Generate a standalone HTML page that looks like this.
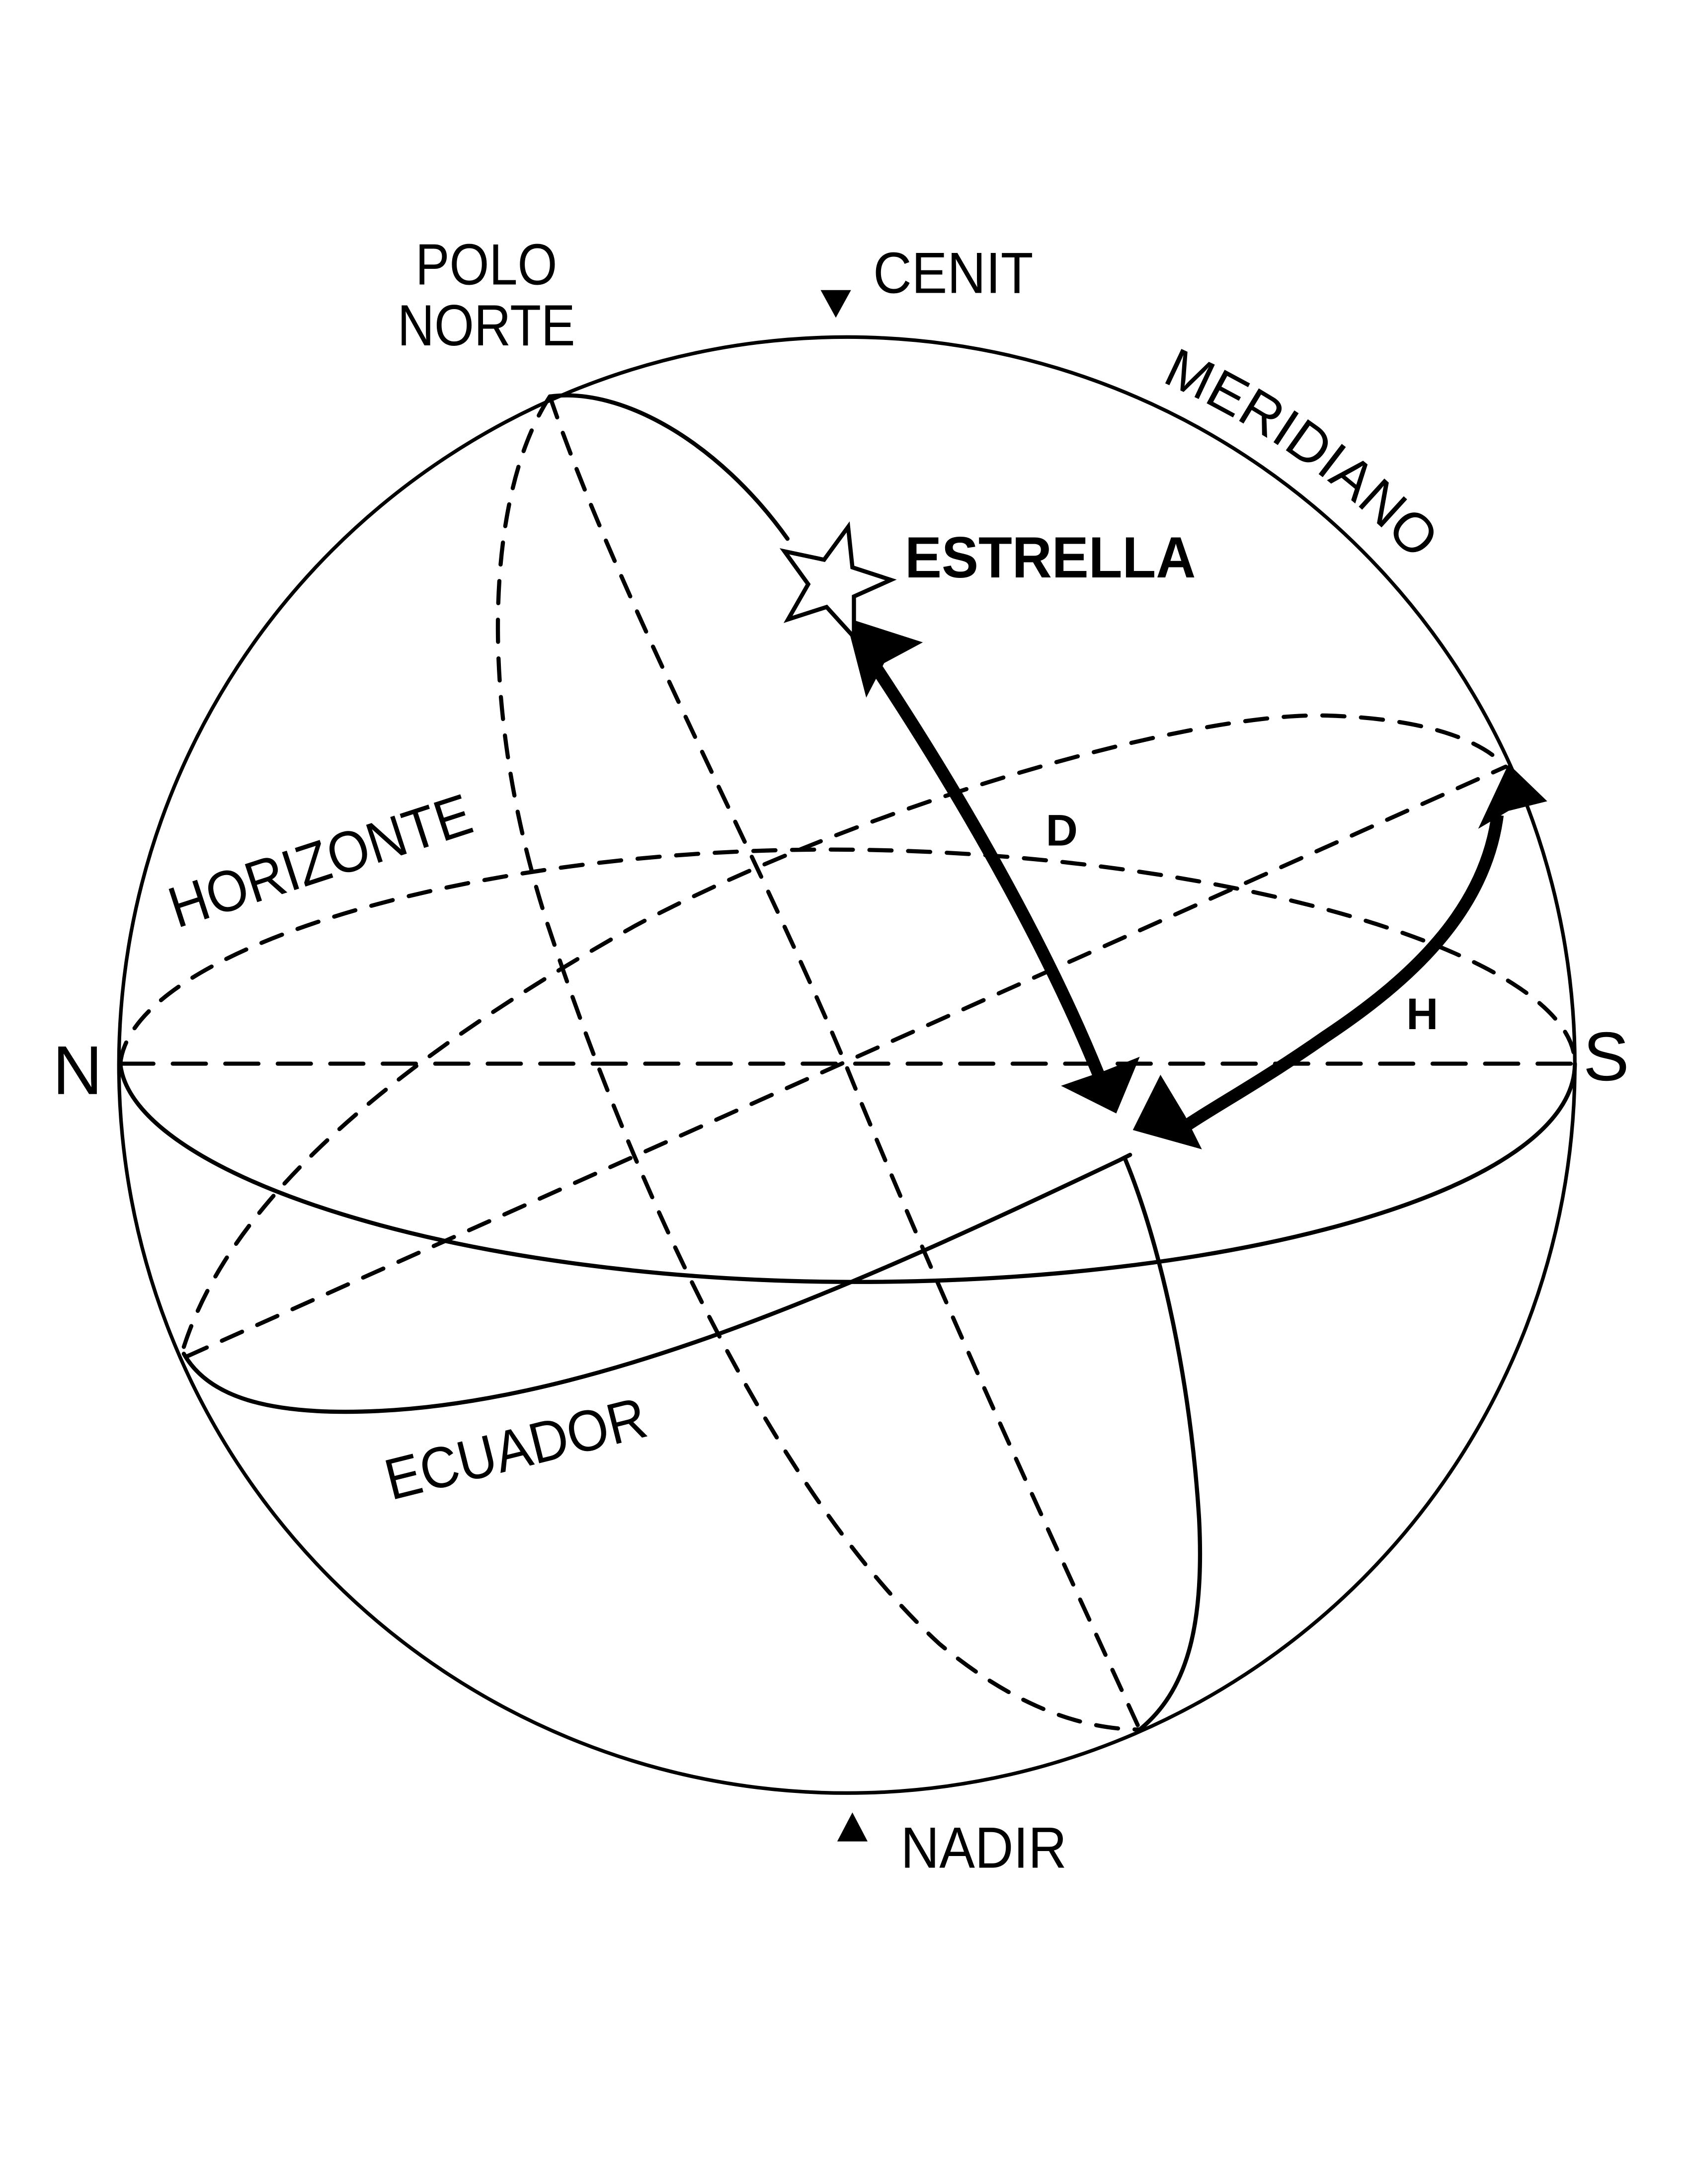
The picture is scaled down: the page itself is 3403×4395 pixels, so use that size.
<!DOCTYPE html>
<html><head><meta charset="utf-8"><style>
html,body{margin:0;padding:0;background:#fff}
svg{display:block}
text{font-family:"Liberation Sans",sans-serif;fill:#000}
</style></head><body>
<svg width="3403" height="4395" viewBox="0 0 1224 1581" xmlns="http://www.w3.org/2000/svg">
<defs>
<path id="mer" d="M 820 268 A 548 548 0 0 1 1075 470" fill="none"/>
</defs>
<g fill="none" stroke="#000" stroke-width="2.6" stroke-linecap="round">
<circle cx="613" cy="771" r="527"/>
<path d="M87 770 C 95 850 330 928 620 928 C 900 928 1140 860 1140 770" stroke-width="3"/>
<path d="M133 980 C 150 1010 190 1022 250 1022 C 420 1022 620 930 810 840 L 818 836" stroke-width="3"/>
<path d="M398 287 C 450 280 520 320 570 390" stroke-width="3"/>
<path d="M814 838 C 840 900 862 1000 868 1100 C 872 1180 858 1225 825 1252" stroke-width="3"/>
</g>
<g fill="none" stroke="#000" stroke-width="3" stroke-dasharray="16 12" stroke-linecap="round">
<path d="M87 770 C 95 690 330 615 600 615 C 880 615 1140 690 1140 770"/>
<path d="M87 770 L 1140 770" stroke-dasharray="24 14"/>
<path d="M133 975 C 170 860 300 760 460 670 C 620 585 860 515 960 518 C 1030 520 1070 535 1088 553"/>
<path d="M135 982 L 1090 555"/>
<path d="M398 287 C 350 360 345 520 400 680 C 460 860 560 1080 680 1190 C 740 1240 790 1252 825 1252"/>
<path d="M398 287 C 450 440 560 640 620 790 C 690 960 760 1110 825 1252"/>
</g>
<path d="M632 480 C 705 590 765 700 800 790" fill="none" stroke="#000" stroke-width="9"/>
<polygon points="612,447 668,465 640,480 627,505" fill="#000"/>
<polygon points="808,806 825,765 800,775 768,786" fill="#000"/>
<path d="M1084 590 C 1075 660 1020 710 960 750 C 910 785 880 800 848 822" fill="none" stroke="#000" stroke-width="9"/>
<polygon points="1092,553 1120,580 1092,587 1070,600" fill="#000"/>
<polygon points="820,818 870,832 858,808 840,778" fill="#000"/>
<polygon points="613.9,381.4 617,410.7 644.9,419.8 618.1,431.8 618.1,461.2 598.3,439.4 570.4,448.4 585,422.9 567.8,399.1 596.5,405.2" fill="#fff" stroke="#000" stroke-width="3" stroke-linejoin="miter"/>
<polygon points="594,210 616,210 605,230" fill="#000"/>
<polygon points="606,1333 628,1333 617,1312" fill="#000"/>
<text x="352" y="206" font-size="42" text-anchor="middle" transform="translate(352 0) scale(0.88 1) translate(-352 0)">POLO</text>
<text x="352" y="250" font-size="42" text-anchor="middle" transform="translate(352 0) scale(0.88 1) translate(-352 0)">NORTE</text>
<text x="632" y="212" font-size="42" transform="translate(632 0) scale(0.92 1) translate(-632 0)">CENIT</text>
<text font-size="40"><textPath href="#mer" startOffset="22">MERIDIANO</textPath></text>
<text x="655" y="418" font-size="42" font-weight="bold" transform="translate(655 0) scale(0.95 1) translate(-655 0)">ESTRELLA</text>
<text x="757" y="612" font-size="32" font-weight="bold">D</text>
<text x="1018" y="745" font-size="32" font-weight="bold">H</text>
<text x="0" y="0" font-size="42" transform="translate(128 672) rotate(-18) scale(0.92 1)">HORIZONTE</text>
<text x="38" y="792" font-size="50">N</text>
<text x="1146" y="782" font-size="50">S</text>
<text x="0" y="0" font-size="42" transform="translate(283 1086) rotate(-14) scale(0.92 1)">ECUADOR</text>
<text x="652" y="1352" font-size="42" transform="translate(652 0) scale(0.92 1) translate(-652 0)">NADIR</text>
</svg>
</body></html>
